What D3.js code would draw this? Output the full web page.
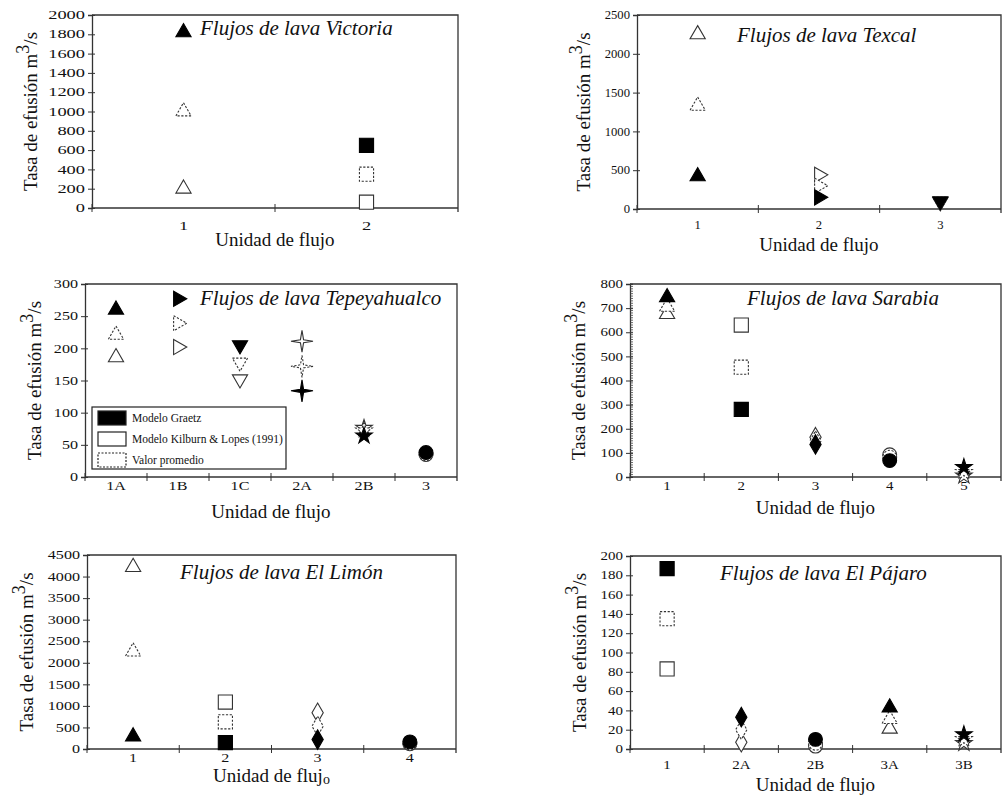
<!DOCTYPE html>
<html lang="es">
<head>
<meta charset="utf-8">
<title>Tasa de efusión - flujos de lava</title>
<script src="https://cdn.jsdelivr.net/npm/d3@7"></script>
<style>
  body { margin: 0; background: #fff; }
  svg { display: block; }
  svg text { font-family: "Liberation Serif", "Times New Roman", Tinos, "DejaVu Serif", serif; fill: #111; }
</style>
</head>
<body>
<div id="chart"></div>
<script>
// ---- data ----
// each panel: categories, shape per category, and the three estimates
var victoriaCats = ["1", "2"];
var victoriaShapes = ["up", "square"];
var victoriaGraetz = [1820, 650];
var victoriaKilburn = [200, 60];
var victoriaMean = [1000, 350];
var victoriaTicks = [0, 200, 400, 600, 800, 1000, 1200, 1400, 1600, 1800, 2000];

var texcalCats = ["1", "2", "3"];
var texcalShapes = ["up", "right", "down"];
var texcalGraetz = [420, 150, 100];
var texcalKilburn = [2250, 440, 90];
var texcalMean = [1330, 300, 95];
var texcalTicks = [0, 500, 1000, 1500, 2000, 2500];

var tepeCats = ["1A", "1B", "1C", "2A", "2B", "3"];
var tepeShapes = ["up", "right", "down", "star4", "star", "circle"];
var tepeGraetz = [260, 277, 205, 134, 64, 38];
var tepeKilburn = [186, 202, 152, 211, 76, 35];
var tepeMean = [221, 239, 178, 172, 72, 36];
var tepeTicks = [0, 50, 100, 150, 200, 250, 300];

var sarabiaCats = ["1", "2", "3", "4", "5"];
var sarabiaShapes = ["up", "square", "diamond", "circle", "star"];
var sarabiaGraetz = [745, 280, 135, 68, 40];
var sarabiaKilburn = [675, 630, 165, 92, 5];
var sarabiaMean = [705, 455, 150, 82, 20];
var sarabiaTicks = [0, 100, 200, 300, 400, 500, 600, 700, 800];

var limonCats = ["1", "2", "3", "4"];
var limonShapes = ["up", "square", "diamond", "circle"];
var limonGraetz = [290, 150, 220, 165];
var limonKilburn = [4220, 1090, 840, 120];
var limonMean = [2260, 630, 530, 140];
var limonTicks = [0, 500, 1000, 1500, 2000, 2500, 3000, 3500, 4000, 4500];

var pajaroCats = ["1", "2A", "2B", "3A", "3B"];
var pajaroShapes = ["square", "diamond", "circle", "up", "star"];
var pajaroGraetz = [187, 33, 10, 43, 15];
var pajaroKilburn = [83, 7, 3, 21, 6];
var pajaroMean = [135, 20, 6, 31, 10];
var pajaroTicks = [0, 20, 40, 60, 80, 100, 120, 140, 160, 180, 200];

var legendLabels = ["Modelo Graetz", "Modelo Kilburn & Lopes (1991)", "Valor promedio"];

// ---- layout ----
var W = 1002, H = 798;
var FONT = "'Liberation Serif', 'Times New Roman', Tinos, 'DejaVu Serif', serif";
var svg = d3.select("#chart").append("svg").attr("width", W).attr("height", H)
  .style("font-family", FONT);

var panels = [
  { name: "Victoria", cats: victoriaCats, shapes: victoriaShapes, g: victoriaGraetz, k: victoriaKilburn, m: victoriaMean, ticks: victoriaTicks,
    x0: 92, x1: 458, yTop: 15, yBot: 208, sx: 1.6, tx: 200, ty: 35, ylx: 37, lby: 22, uy: 246 },
  { name: "Texcal", cats: texcalCats, shapes: texcalShapes, g: texcalGraetz, k: texcalKilburn, m: texcalMean, ticks: texcalTicks,
    x0: 637, x1: 1001, yTop: 15, yBot: 209, sx: 1.1, tx: 737, ty: 42, ylx: 590, lby: 20, uy: 251 },
  { name: "Tepeyahualco", cats: tepeCats, shapes: tepeShapes, g: tepeGraetz, k: tepeKilburn, m: tepeMean, ticks: tepeTicks,
    x0: 85, x1: 457, yTop: 284, yBot: 477, sx: 1.4, tx: 200, ty: 305, ylx: 41, lby: 13, uy: 518, legend: true },
  { name: "Sarabia", cats: sarabiaCats, shapes: sarabiaShapes, g: sarabiaGraetz, k: sarabiaKilburn, m: sarabiaMean, ticks: sarabiaTicks,
    x0: 630, x1: 1001, yTop: 284, yBot: 477, sx: 1.3, tx: 747, ty: 305, ylx: 585, lby: 13, uy: 514, minor: 10 },
  { name: "El Limón", cats: limonCats, shapes: limonShapes, g: limonGraetz, k: limonKilburn, m: limonMean, ticks: limonTicks,
    x0: 87, x1: 456, yTop: 555, yBot: 749, sx: 1.4, tx: 180, ty: 579, ylx: 33, lby: 13, uy: 782, subO: true },
  { name: "El Pájaro", cats: pajaroCats, shapes: pajaroShapes, g: pajaroGraetz, k: pajaroKilburn, m: pajaroMean, ticks: pajaroTicks,
    x0: 630, x1: 1001, yTop: 556, yBot: 749, sx: 1.3, tx: 720, ty: 580, ylx: 586, lby: 20, uy: 791 }
];

// marker paths
function shapePath(shape) {
  if (shape == "up" || shape == "right" || shape == "down") return d3.symbol(d3.symbolTriangle, 100)();
  if (shape == "square") return d3.symbol(d3.symbolSquare, 200)();
  if (shape == "diamond") return d3.symbol(d3.symbolDiamond, 110)();
  if (shape == "circle") return d3.symbol(d3.symbolCircle, 150)();
  if (shape == "star") return d3.symbol(d3.symbolStar, 85)();
  if (shape == "star4") {
    // four pointed star with pinched sides
    var pts = [], R = 11, r = 2.2;
    for (var i = 0; i < 8; i++) {
      var a = -Math.PI / 2 + i * Math.PI / 4;
      var rr = (i % 2 == 0) ? R : r;
      pts.push([rr * Math.cos(a), rr * Math.sin(a)]);
    }
    return "M" + pts.join("L") + "Z";
  }
}
function rotation(shape) {
  if (shape == "right") return 90;
  if (shape == "down") return 180;
  return 0;
}

panels.forEach(function (p) {
  var x = d3.scaleBand().domain(p.cats).range([p.x0, p.x1]);
  var y = d3.scaleLinear().domain([0, d3.max(p.ticks)]).range([p.yBot, p.yTop]);
  var g = svg.append("g");

  // frame top and right
  g.append("path")
    .attr("d", "M" + p.x0 + "," + p.yTop + "H" + p.x1 + "V" + (p.yBot + 4))
    .attr("fill", "none").attr("stroke", "#333").attr("stroke-width", 1.3);

  // y axis
  var ya = g.append("g").attr("transform", "translate(" + p.x0 + ",0)")
    .call(d3.axisLeft(y).tickValues(p.ticks).tickFormat(d3.format("d")).tickSize(4).tickPadding(4));
  ya.attr("font-family", null);
  ya.select(".domain").attr("stroke", "#333").attr("stroke-width", 1.3);
  ya.selectAll(".tick line").attr("x1", 3).attr("stroke", "#333");
  ya.selectAll(".tick text")
    .attr("x", null)
    .attr("transform", "translate(-7,0) scale(" + p.sx + ",1)")
    .style("font-size", "11.5px").attr("fill", "#111");

  if (p.minor) {
    var minors = d3.range(0, d3.max(p.ticks) + 1, p.minor);
    g.selectAll(".minor").data(minors).enter().append("line")
      .attr("x1", p.x0).attr("x2", p.x0 + 3)
      .attr("y1", function (d) { return y(d); }).attr("y2", function (d) { return y(d); })
      .attr("stroke", "#444").attr("stroke-width", 0.8);
  }

  // x axis: line, ticks at band edges, labels at centers
  g.append("line").attr("x1", p.x0).attr("x2", p.x1).attr("y1", p.yBot).attr("y2", p.yBot)
    .attr("stroke", "#333").attr("stroke-width", 1.3);
  var edges = d3.range(0, p.cats.length).map(function (i) { return p.x0 + i * x.step(); });
  g.selectAll(".xt").data(edges).enter().append("line")
    .attr("x1", function (d) { return d; }).attr("x2", function (d) { return d; })
    .attr("y1", p.yBot - 4).attr("y2", p.yBot + 4)
    .attr("stroke", "#333").attr("stroke-width", 1);
  g.selectAll(".xl").data(p.cats).enter().append("text")
    .attr("transform", function (d) { return "translate(" + (x(d) + x.bandwidth() / 2) + "," + (p.yBot + p.lby) + ") scale(" + p.sx + ",1)"; })
    .attr("text-anchor", "middle").style("font-size", "11.5px")
    .text(function (d) { return d; });

  // axis titles
  var ux = g.append("text").attr("x", (p.x0 + p.x1) / 2).attr("y", p.uy)
    .attr("text-anchor", "middle").style("font-size", "19px");
  if (p.subO) {
    ux.text("Unidad de fluj");
    ux.append("tspan").attr("dy", 2).style("font-size", "14px").text("o");
  } else {
    ux.text("Unidad de flujo");
  }

  var yt = g.append("text")
    .attr("transform", "translate(" + p.ylx + "," + ((p.yTop + p.yBot) / 2) + ") rotate(-90)")
    .attr("text-anchor", "middle").style("font-size", "19px");
  yt.append("tspan").text("Tasa de efusión m");
  yt.append("tspan").attr("dy", -8).style("font-size", "18px").text("3");
  yt.append("tspan").attr("dy", 8).text("/s");

  // title
  g.append("text").attr("x", p.tx).attr("y", p.ty)
    .style("font-size", "21px").style("font-style", "italic")
    .text("Flujos de lava " + p.name);

  // markers: open (Kilburn), dashed (mean), filled (Graetz)
  var series = [
    { vals: p.k, fill: "#fff", dash: null },
    { vals: p.m, fill: "#fff", dash: "2.2,1.6" },
    { vals: p.g, fill: "#000", dash: null }
  ];
  series.forEach(function (s) {
    g.selectAll(null).data(p.cats).enter().append("path")
      .attr("d", function (d, i) { return shapePath(p.shapes[i]); })
      .attr("transform", function (d, i) {
        return "translate(" + (x(d) + x.bandwidth() / 2) + "," + y(s.vals[i]) + ") rotate(" + rotation(p.shapes[i]) + ")";
      })
      .attr("fill", s.fill).attr("stroke", s.fill == "#000" ? "#000" : "#333")
      .attr("stroke-width", 1.1)
      .attr("stroke-dasharray", s.dash);
  });

  // legend
  if (p.legend) {
    var lg = g.append("g");
    lg.append("rect").attr("x", 92).attr("y", 407).attr("width", 194).attr("height", 62)
      .attr("fill", "#fff").attr("stroke", "#222").attr("stroke-width", 1.2);
    var rowY = [418, 439, 460];
    var sw = [{ f: "#000", d: null }, { f: "#fff", d: null }, { f: "#fff", d: "2,1.5" }];
    legendLabels.forEach(function (lab, i) {
      lg.append("rect").attr("x", 98).attr("y", rowY[i] - 7).attr("width", 28).attr("height", 14)
        .attr("fill", sw[i].f).attr("stroke", "#222").attr("stroke-width", 1.2)
        .attr("stroke-dasharray", sw[i].d);
      lg.append("text").attr("x", 132).attr("y", rowY[i] + 4).style("font-size", "11.5px").text(lab);
    });
  }
});
</script>
</body>
</html>
